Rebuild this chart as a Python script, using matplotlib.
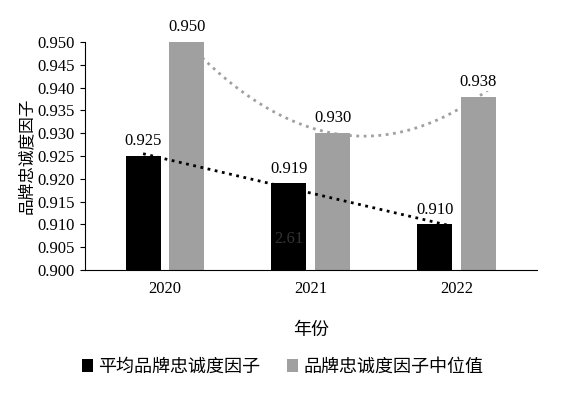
import numpy as np
import matplotlib.pyplot as plt

plt.rcParams['font.family'] = ['Liberation Serif', 'Noto Sans CJK SC']

years = ['2020', '2021', '2022']
avg_vals = [0.925, 0.919, 0.910]
med_vals = [0.950, 0.930, 0.938]

fig = plt.figure(figsize=(5.65, 4), dpi=100)
ax = fig.add_axes([0.15, 0.325, 0.80, 0.57])

x = np.arange(len(years))
w = 0.24
off = 0.15
ax.bar(x - off, avg_vals, w, color='black', label='平均品牌忠诚度因子')
ax.bar(x + off, med_vals, w, color='#a0a0a0', label='品牌忠诚度因子中位值')

for xi, v in zip(x - off, avg_vals):
    ax.text(xi, v + 0.0015, f'{v:.3f}', ha='center', va='bottom', fontsize=12)
for xi, v in zip(x + off, med_vals):
    ax.text(xi, v + 0.0015, f'{v:.3f}', ha='center', va='bottom', fontsize=12,
            bbox=dict(facecolor='white', edgecolor='none', pad=0.5))

# trend lines
xs = np.linspace(x[0], x[-1] + 0.1, 100)
p1 = np.polyfit(x, avg_vals, 1)
ax.plot(xs - off, np.polyval(p1, xs), ':', color='black', lw=2)
p2 = np.polyfit(x, med_vals, 2)
ax.plot(xs + off, np.polyval(p2, xs), ':', color='#a0a0a0', lw=2)

ax.text(1 - off, 0.9068, '2.61', ha='center', va='center', fontsize=12, color='#333333')

ax.set_ylim(0.900, 0.950)
ax.set_yticks(np.arange(0.900, 0.9501, 0.005))
ax.set_yticklabels([f'{t:.3f}' for t in np.arange(0.900, 0.9501, 0.005)], fontsize=12)
ax.set_xlim(-0.55, 2.55)
ax.set_xticks(x)
ax.set_xticklabels(years, fontsize=12)
ax.tick_params(axis='x', length=0, pad=8)
ax.spines['top'].set_visible(False)
ax.spines['right'].set_visible(False)
ax.set_ylabel('品牌忠诚度因子', fontsize=12, labelpad=2)
ax.set_xlabel('年份', fontsize=13, labelpad=18)

fig.legend(loc='lower center', bbox_to_anchor=(0.5, 0.02), ncol=2, frameon=False,
           fontsize=13, handlelength=0.6, handleheight=0.8, columnspacing=1.5, handletextpad=0.3)

fig.savefig('out.png', dpi=100)
